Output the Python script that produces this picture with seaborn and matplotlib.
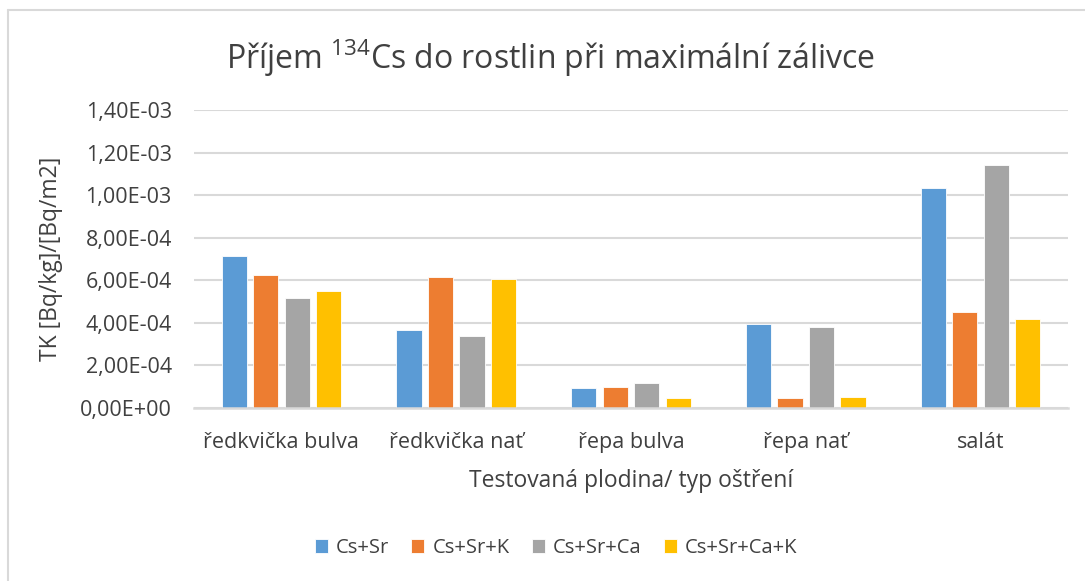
import matplotlib
matplotlib.use("Agg")
import matplotlib.pyplot as plt
import matplotlib.ticker as mticker
from matplotlib.lines import Line2D
import pandas as pd
import seaborn as sns

CROPS = ["ředkvička bulva", "ředkvička nať", "řepa bulva", "řepa nať", "salát"]
TREATMENTS = ["Cs+Sr", "Cs+Sr+K", "Cs+Sr+Ca", "Cs+Sr+Ca+K"]
CS_SR = [7.15e-4, 3.65e-4, 0.92e-4, 3.96e-4, 1.034e-3]
CS_SR_K = [6.24e-4, 6.16e-4, 1.0e-4, 0.45e-4, 4.49e-4]
CS_SR_CA = [5.16e-4, 3.39e-4, 1.17e-4, 3.82e-4, 1.141e-3]
CS_SR_CA_K = [5.51e-4, 6.04e-4, 0.45e-4, 0.51e-4, 4.18e-4]
COLORS = ["#5B9BD5", "#ED7D31", "#A5A5A5", "#FFC000"]
Y_TICKS = [0, 2e-4, 4e-4, 6e-4, 8e-4, 1e-3, 1.2e-3, 1.4e-3]

TEXT = "#404040"
GRID = "#D9D9D9"


def _sci_comma(value, _pos):
    return f"{value:.2E}".replace(".", ",")


sns.set_theme(style="white")
plt.rcParams["font.family"] = ["Open Sans", "DejaVu Sans"]
plt.rcParams["mathtext.default"] = "regular"

rows = []
for treatment, values in zip(TREATMENTS, [CS_SR, CS_SR_K, CS_SR_CA, CS_SR_CA_K]):
    for crop, value in zip(CROPS, values):
        rows.append({"Plodina": crop, "Ošetření": treatment, "TK": value})
df = pd.DataFrame(rows)

fig = plt.figure(figsize=(10.85, 5.81), dpi=100)
ax = fig.add_axes([194 / 1085, 1 - 408 / 581, (1068 - 194) / 1085, (408 - 110) / 581])

sns.barplot(
    data=df,
    x="Plodina",
    y="TK",
    hue="Ošetření",
    order=CROPS,
    hue_order=TREATMENTS,
    palette=COLORS,
    saturation=1,
    width=0.72,
    gap=0.2,
    errorbar=None,
    edgecolor="white",
    linewidth=0.6,
    ax=ax,
)

ax.set_ylim(0, 1.4e-3)
ax.set_yticks(Y_TICKS)
ax.yaxis.set_major_formatter(mticker.FuncFormatter(_sci_comma))
ax.grid(axis="y", color=GRID, linewidth=1.5)
ax.set_axisbelow(True)
for side in ["top", "right", "left"]:
    ax.spines[side].set_visible(False)
ax.spines["bottom"].set_color(GRID)
ax.spines["bottom"].set_linewidth(1.8)
ax.tick_params(axis="both", length=0, labelcolor=TEXT)
ax.tick_params(axis="y", pad=16, labelsize=15.5)
ax.tick_params(axis="x", pad=17, labelsize=15.5)

ax.set_xlabel("Testovaná plodina/ typ oštření", fontsize=16.5, color=TEXT, labelpad=12)
ax.set_ylabel("TK [Bq/kg]/[Bq/m2]", fontsize=16.5, color=TEXT, labelpad=12)

fig.text(
    551 / 1085, 1 - 58 / 581,
    "Příjem $^{134}$Cs do rostlin při maximální zálivce",
    ha="center", va="center", fontsize=23, color=TEXT,
)

ax.legend(
    loc="center",
    bbox_to_anchor=(556 / 1085, 1 - 548 / 581),
    bbox_transform=fig.transFigure,
    ncol=4,
    frameon=False,
    fontsize=14.5,
    handlelength=0.65,
    handleheight=0.65,
    handletextpad=0.4,
    columnspacing=1.1,
    labelcolor=TEXT,
)

# chart area border (left and top edges visible)
fig.add_artist(Line2D([8 / 1085, 8 / 1085], [0, 1 - 10 / 581], transform=fig.transFigure, color=GRID, linewidth=1.5))
fig.add_artist(Line2D([8 / 1085, 1], [1 - 10 / 581, 1 - 10 / 581], transform=fig.transFigure, color=GRID, linewidth=1.5))

fig.savefig("out.png", dpi=100)
